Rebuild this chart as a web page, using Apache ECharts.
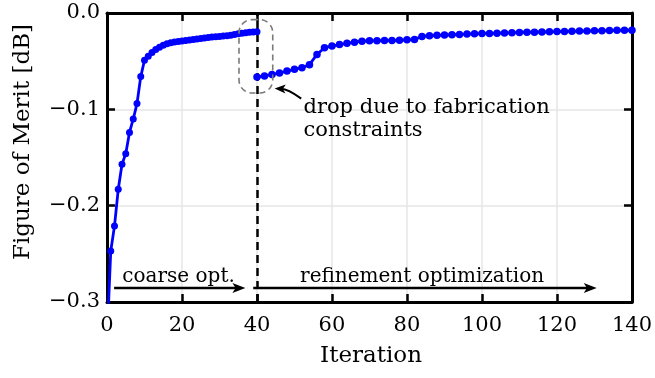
<!DOCTYPE html>
<html>
<head>
<meta charset="utf-8">
<script src="https://cdn.jsdelivr.net/npm/echarts@6/dist/echarts.min.js"></script>
<style>
  html, body { margin: 0; padding: 0; background: #fff; }
  #chart { width: 655px; height: 378px; }
</style>
</head>
<body>
<div id="chart"></div>
<script>
// Coarse optimization stage: one sample per iteration
const coarseIter = [0, 1, 2, 3, 4, 5, 6, 7, 8, 9, 10, 11, 12, 13, 14, 15, 16, 17, 18, 19, 20,
  21, 22, 23, 24, 25, 26, 27, 28, 29, 30, 31, 32, 33, 34, 35, 36, 37, 38, 39, 40];
const coarseFom = [-0.340, -0.247, -0.221, -0.183, -0.157, -0.146, -0.124, -0.110, -0.094, -0.066, -0.049,
  -0.045, -0.041, -0.038, -0.0355, -0.0335, -0.032, -0.031, -0.030, -0.0295, -0.029,
  -0.0285, -0.028, -0.0275, -0.027, -0.0265, -0.026, -0.0255, -0.025, -0.0247, -0.0243,
  -0.024, -0.0235, -0.023, -0.0222, -0.0215, -0.021, -0.0205, -0.0201, -0.0198, -0.0195];

// Refinement stage after applying fabrication constraints: every second iteration
const refineIter = [40, 42, 44, 46, 48, 50, 52, 54, 56, 58, 60, 62, 64, 66, 68, 70, 72, 74, 76, 78, 80,
  82, 84, 86, 88, 90, 92, 94, 96, 98, 100, 102, 104, 106, 108, 110, 112, 114, 116, 118, 120,
  122, 124, 126, 128, 130, 132, 134, 136, 138, 140];
const refineFom = [-0.0664, -0.0654, -0.0638, -0.0623, -0.0603, -0.0585, -0.0568, -0.0536, -0.0430, -0.0360, -0.0343,
  -0.0328, -0.0315, -0.0303, -0.0293, -0.0289, -0.0287, -0.0286, -0.0285, -0.0284, -0.0278,
  -0.0275, -0.0243, -0.0236, -0.0232, -0.0229, -0.0226, -0.0222, -0.0219, -0.0215, -0.0214,
  -0.0212, -0.0210, -0.0207, -0.0205, -0.0202, -0.0200, -0.0199, -0.0197, -0.0195, -0.0193,
  -0.0191, -0.0190, -0.0188, -0.0187, -0.0185, -0.0183, -0.0182, -0.0180, -0.0180, -0.0179];

const xTicks = [0, 20, 40, 60, 80, 100, 120, 140];
const yTicks = [-0.3, -0.2, -0.1, 0.0];
const stageSwitch = 40;

const FONT = 'DejaVu Serif';
const BLUE = '#0000ff';

const zip = (xs, ys) => xs.map((x, i) => [x, ys[i]]);
const fmtY = v => (v < -1e-9 ? '\u2212' : '') + Math.abs(v).toFixed(1);

const chart = echarts.init(document.getElementById('chart'), null, { renderer: 'canvas' });

const frameAxis = (extra) => Object.assign({
  axisLine: { show: true, onZero: false, lineStyle: { color: '#000', width: 3 } },
  axisTick: { show: true, inside: true, length: 8, lineStyle: { color: '#000', width: 2.5 } },
  splitLine: { show: false },
  axisLabel: { show: false }
}, extra);

chart.setOption({
  animation: false,
  grid: { left: 107, right: 23, top: 13, bottom: 76, containLabel: false },
  xAxis: [
    frameAxis({
      type: 'value', position: 'bottom',
      min: xTicks[0], max: xTicks[xTicks.length - 1], interval: 20,
      axisLabel: { show: true, margin: 13, color: '#000', fontFamily: FONT, fontSize: 21 },
      splitLine: { show: true, lineStyle: { color: '#e6e6e6', width: 1.5 } }
    }),
    frameAxis({
      type: 'value', position: 'top',
      min: xTicks[0], max: xTicks[xTicks.length - 1], interval: 20
    })
  ],
  yAxis: [
    frameAxis({
      type: 'value', position: 'left',
      min: yTicks[0], max: yTicks[yTicks.length - 1], interval: 0.1,
      axisLabel: { show: true, margin: 7, color: '#000', fontFamily: FONT, fontSize: 21, formatter: fmtY },
      splitLine: { show: true, lineStyle: { color: '#e6e6e6', width: 1.5 } }
    }),
    frameAxis({
      type: 'value', position: 'right',
      min: yTicks[0], max: yTicks[yTicks.length - 1], interval: 0.1
    })
  ],
  series: [
    {
      name: 'coarse', type: 'line', xAxisIndex: 0, yAxisIndex: 0,
      data: zip(coarseIter, coarseFom), clip: true,
      symbol: 'circle', symbolSize: 7, showSymbol: true,
      lineStyle: { color: BLUE, width: 2.8 }, itemStyle: { color: BLUE },
      z: 3,
      // stage boundary, kept beneath the data markers
      markLine: {
        silent: true, symbol: ['none', 'none'], label: { show: false },
        lineStyle: { color: '#000', width: 2.5, type: [8, 5] },
        data: [{ xAxis: stageSwitch }],
        z: 1
      }
    },
    {
      name: 'refine', type: 'line', xAxisIndex: 0, yAxisIndex: 0,
      data: zip(refineIter, refineFom), clip: true,
      symbol: 'circle', symbolSize: 7.5, showSymbol: true,
      lineStyle: { color: BLUE, width: 2.8 }, itemStyle: { color: BLUE },
      z: 3
    }
  ]
});

// Annotation layer in pixel space derived from the axes
const px = (x, y) => chart.convertToPixel({ gridIndex: 0 }, [x, y]);

function arrowGroup(x1, y1, x2, y2, opts) {
  const o = Object.assign({ width: 2.5, head: 13, halfW: 5, color: '#000', ctrl: null }, opts || {});
  let dx, dy;
  if (o.ctrl) { dx = x2 - o.ctrl[0]; dy = y2 - o.ctrl[1]; } else { dx = x2 - x1; dy = y2 - y1; }
  const len = Math.hypot(dx, dy); const ux = dx / len, uy = dy / len;
  const bx = x2 - ux * o.head, by = y2 - uy * o.head;
  const nx = -uy, ny = ux;
  const children = [];
  const ex = x2 - ux * o.head * 0.6, ey = y2 - uy * o.head * 0.6;
  if (o.ctrl) {
    children.push({ type: 'bezierCurve', shape: { x1: x1, y1: y1, x2: ex, y2: ey, cpx1: o.ctrl[0], cpy1: o.ctrl[1] },
      style: { stroke: o.color, lineWidth: o.width, fill: null } });
  } else {
    children.push({ type: 'line', shape: { x1: x1, y1: y1, x2: ex, y2: ey },
      style: { stroke: o.color, lineWidth: o.width } });
  }
  children.push({ type: 'polygon', shape: { points: [
      [x2, y2],
      [bx + nx * o.halfW, by + ny * o.halfW],
      [x2 - ux * o.head * 0.75, y2 - uy * o.head * 0.75],
      [bx - nx * o.halfW, by - ny * o.halfW]
    ] }, style: { fill: o.color, stroke: null } });
  return { type: 'group', children: children };
}

const yArrow = -0.2855;
const cA = px(1.9, yArrow), cB = px(36.9, yArrow);
const rA = px(39.0, yArrow), rB = px(130.6, yArrow);
const boxTL = px(35.2, -0.0069), boxBR = px(44.2, -0.0831);
const capC = px(4.1, -0.2736);
const capR = px(51.5, -0.2736);
const dropTxt = px(52.4, -0.0866);
const dropTail = px(51.8, -0.0889);
const dropHead = px(44.7, -0.0785);
const dropCtrl = px(48.2, -0.0790);

chart.setOption({
  graphic: [
    {
      type: 'rect', z: 10,
      shape: { x: boxTL[0], y: boxTL[1], width: boxBR[0] - boxTL[0], height: boxBR[1] - boxTL[1], r: 13 },
      style: { fill: null, stroke: '#7a7a7a', lineWidth: 1.6, lineDash: [6, 4] }
    },
    Object.assign(arrowGroup(cA[0], cA[1], cB[0], cB[1]), { z: 10 }),
    Object.assign(arrowGroup(rA[0], rA[1], rB[0], rB[1]), { z: 10 }),
    Object.assign(arrowGroup(dropTail[0], dropTail[1], dropHead[0], dropHead[1],
      { ctrl: dropCtrl, width: 2, head: 11, halfW: 4.5 }), { z: 10 }),
    {
      type: 'text', z: 10, x: capC[0], y: capC[1],
      style: { text: 'coarse opt.', fill: '#000', font: '20px "DejaVu Serif"', verticalAlign: 'middle', align: 'left' }
    },
    {
      type: 'text', z: 10, x: capR[0], y: capR[1],
      style: { text: 'refinement optimization', fill: '#000', font: '20px "DejaVu Serif"', verticalAlign: 'middle', align: 'left' }
    },
    {
      type: 'text', z: 10, x: dropTxt[0], y: dropTxt[1],
      style: { text: 'drop due to fabrication\nconstraints', fill: '#000', font: '21px "DejaVu Serif"',
        lineHeight: 23, verticalAlign: 'top', align: 'left' }
    },
    {
      type: 'text', z: 10, x: 23, y: 142, rotation: Math.PI / 2,
      style: { text: 'Figure of Merit [dB]', fill: '#000', font: '23px "DejaVu Serif"', verticalAlign: 'middle', align: 'center' }
    },
    {
      type: 'text', z: 10, x: 371, y: 356,
      style: { text: 'Iteration', fill: '#000', font: '23px "DejaVu Serif"', verticalAlign: 'middle', align: 'center' }
    }
  ]
});
</script>
</body>
</html>
